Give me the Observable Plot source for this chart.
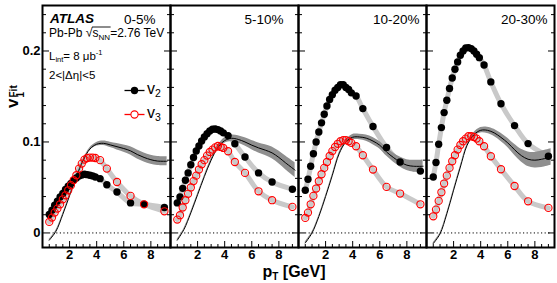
<!DOCTYPE html>
<html><head><meta charset="utf-8">
<script src="https://cdn.jsdelivr.net/npm/d3@7"></script>
<script src="https://cdn.jsdelivr.net/npm/@observablehq/plot@0.6"></script>
<style>
body{margin:0;background:#fff;}
#chart svg{display:block;background:#fff;}
</style></head><body><div id="chart"></div>
<script>
const FONT = "'Liberation Sans', Arial, Helvetica, sans-serif";
const panels = ["0-5%","5-10%","10-20%","20-30%"];
const pt = [0.5,0.7,0.9,1.1,1.3,1.5,1.7,1.9,2.1,2.3,2.5,2.7,2.9,3.1,3.3,3.5,3.7,3.9,4.25,4.75,5.5,6.5,7.5,9.0];

const v2_p1 = [0.0202,0.025,0.0304,0.0348,0.0396,0.0433,0.0477,0.0513,0.0543,0.058,0.0605,0.0627,0.0637,0.0645,0.0641,0.0634,0.0627,0.0615,0.0597,0.053,0.045,0.033,0.0315,0.028];
const v3_p1 = [0.0121,0.0169,0.0224,0.0268,0.0315,0.037,0.0414,0.0469,0.0524,0.058,0.0634,0.0707,0.0762,0.0806,0.0824,0.0828,0.0828,0.0824,0.080,0.0707,0.056,0.0407,0.0315,0.0238];
const v2_p2 = [0.033,0.0396,0.049,0.058,0.066,0.075,0.083,0.090,0.0956,0.101,0.1055,0.109,0.112,0.114,0.1143,0.1136,0.112,0.110,0.107,0.098,0.0835,0.066,0.056,0.048];
const v3_p2 = [0.0147,0.0195,0.028,0.036,0.043,0.050,0.057,0.063,0.0697,0.0755,0.080,0.085,0.089,0.0916,0.094,0.0956,0.0945,0.0934,0.0898,0.078,0.066,0.0458,0.036,0.0286];
const v2_p3 = [0.047,0.059,0.0733,0.087,0.100,0.111,0.121,0.1304,0.1396,0.1466,0.152,0.1568,0.160,0.163,0.163,0.160,0.1576,0.154,0.1505,0.1367,0.117,0.094,0.078,0.068];
const v3_p3 = [0.0165,0.0224,0.0315,0.0407,0.0488,0.0568,0.0645,0.0715,0.078,0.0846,0.090,0.0945,0.098,0.1008,0.102,0.102,0.1008,0.099,0.0953,0.0854,0.0697,0.0506,0.0433,0.0315];
const v2_p4 = [0.0615,0.0774,0.0975,0.1158,0.1323,0.1458,0.1587,0.1703,0.180,0.188,0.1953,0.200,0.2033,0.2037,0.2026,0.200,0.1964,0.1927,0.1846,0.166,0.142,0.118,0.0982,0.0843];
const v3_p4 = [0.0183,0.0257,0.0352,0.0447,0.0543,0.063,0.0715,0.0788,0.0854,0.0916,0.0967,0.1008,0.1037,0.1063,0.1063,0.1055,0.1037,0.1008,0.0953,0.0843,0.070,0.0516,0.0348,0.0275];

const fitPt = [0.5,1,1.5,2,2.5,3,3.5,4,4.5,5,5.5,6,6.5,7,7.5,8,8.5,9.2];
const v1_p1 = [-0.008,0.002,0.0205,0.041,0.0617,0.0795,0.0922,0.0975,0.0985,0.0968,0.0948,0.0928,0.0902,0.0862,0.083,0.0805,0.079,0.0788];
const e1_p1 = [0.001,0.001,0.001,0.001,0.001,0.0012,0.0015,0.002,0.0025,0.003,0.0035,0.004,0.0045,0.005,0.005,0.005,0.005,0.005];
const v1_p2 = [-0.008,0.004,0.022,0.042,0.062,0.080,0.094,0.1015,0.104,0.1028,0.100,0.0965,0.0935,0.091,0.088,0.083,0.077,0.069];
const e1_p2 = [0.001,0.001,0.001,0.001,0.001,0.0015,0.002,0.003,0.0035,0.004,0.0045,0.005,0.0055,0.006,0.0065,0.007,0.0075,0.008];
const v1_p3 = [-0.011,0.0,0.018,0.040,0.0635,0.087,0.100,0.1052,0.1055,0.1042,0.101,0.0964,0.089,0.083,0.078,0.0745,0.0733,0.0733];
const e1_p3 = [0.001,0.001,0.001,0.001,0.001,0.0015,0.002,0.003,0.003,0.0035,0.004,0.004,0.0045,0.005,0.0055,0.006,0.0065,0.007];
const v1_p4 = [-0.0117,-0.001,0.021,0.047,0.0725,0.0964,0.108,0.1128,0.1128,0.110,0.105,0.099,0.0915,0.085,0.081,0.080,0.081,0.0835];
const e1_p4 = [0.001,0.001,0.001,0.001,0.001,0.0015,0.002,0.003,0.0035,0.004,0.0045,0.005,0.006,0.007,0.008,0.0085,0.009,0.009];

const yMajor = [0, 0.1, 0.2];
const yMinor = [0.02,0.04,0.06,0.08,0.12,0.14,0.16,0.18,0.22,0.24];
const xMajor = [2,4,6,8];
const xMinor = [0.5,1,1.5,2.5,3,3.5,4.5,5,5.5,6.5,7,7.5,8.5,9];

// build tables
const v2s = [v2_p1, v2_p2, v2_p3, v2_p4];
const v3s = [v3_p1, v3_p2, v3_p3, v3_p4];
const v1s = [v1_p1, v1_p2, v1_p3, v1_p4];
const e1s = [e1_p1, e1_p2, e1_p3, e1_p4];
const rows = [];
panels.forEach((p, i) => {
  pt.forEach((x, j) => rows.push({panel: p, series: "v2", pt: x, v: v2s[i][j]}));
  pt.forEach((x, j) => rows.push({panel: p, series: "v3", pt: x, v: v3s[i][j]}));
});
const fitRows = [];
panels.forEach((p, i) => fitPt.forEach((x, j) => fitRows.push({panel: p, pt: x, v: v1s[i][j], lo: v1s[i][j] - e1s[i][j], hi: v1s[i][j] + e1s[i][j]})));
const v2Rows = rows.filter(d => d.series === "v2");
const v3Rows = rows.filter(d => d.series === "v3");

const dash = {draw(ctx, size) { const r = Math.sqrt(size / Math.PI); ctx.moveTo(-r, 0); ctx.lineTo(r, 0); }};

const chart = Plot.plot({
  width: 557, height: 283,
  marginLeft: 41, marginRight: 2, marginTop: 5, marginBottom: 36,
  style: {fontFamily: FONT, background: "#fff", color: "black"},
  x: {domain: [0, 9.45]},
  y: {domain: [-0.016, 0.25]},
  fx: {domain: panels, padding: 0, axis: null},
  marks: [
    Plot.ruleY([0], {stroke: "black", strokeDasharray: "1.2,2.4", strokeWidth: 1, insetLeft: 7, insetRight: 4}),
    Plot.line(rows, {x: "pt", y: "v", z: "series", fx: "panel", stroke: "#c9c9c9", strokeWidth: 5, curve: "catmull-rom"}),
    Plot.areaY(fitRows, {x: "pt", y1: "lo", y2: "hi", fx: "panel", fill: "#8f8f8f", curve: "catmull-rom"}),
    Plot.line(fitRows, {x: "pt", y: "v", fx: "panel", stroke: "black", strokeWidth: 1, curve: "catmull-rom"}),
    Plot.dot(v2Rows, {x: "pt", y: "v", fx: "panel", r: 3.7, fill: "black", stroke: "none"}),
    Plot.dot(v3Rows, {x: "pt", y: "v", fx: "panel", r: 3.6, fill: "none", stroke: "#ff0000", strokeWidth: 1.1}),
    Plot.frame({stroke: "black", strokeWidth: 2}),
    // inward ticks
    Plot.axisY(yMajor, {anchor: "left", facetAnchor: null, tickSize: 7, dx: 7, fill: "none", label: null}),
    Plot.axisY(yMajor, {anchor: "right", facetAnchor: null, tickSize: 7, dx: -7, fill: "none", label: null}),
    Plot.axisY(yMinor, {anchor: "left", facetAnchor: null, tickSize: 4, dx: 4, fill: "none", label: null}),
    Plot.axisY(yMinor, {anchor: "right", facetAnchor: null, tickSize: 4, dx: -4, fill: "none", label: null}),
    Plot.axisX(xMajor, {anchor: "bottom", facetAnchor: null, tickSize: 6, dy: -6, fill: "none", label: null}),
    Plot.axisX(xMinor, {anchor: "bottom", facetAnchor: null, tickSize: 3, dy: -3, fill: "none", label: null}),
    // tick labels
    Plot.axisY(yMajor, {anchor: "left", tickSize: 0, tickPadding: 2, fontSize: 13, fontWeight: "bold", tickFormat: d => d === 0 ? "0" : d3.format(".1f")(d), label: null}),
    Plot.axisX(xMajor, {anchor: "bottom", facetAnchor: null, tickSize: 0, tickPadding: 2, fontSize: 13, fontWeight: "bold", tickFormat: d => String(d), label: null}),
    // centrality labels
    Plot.text(panels.slice(0, 2), {fx: d => d, text: d => d, frameAnchor: "top-right", dx: -15, dy: 18, lineAnchor: "bottom", fontSize: 13.5}),
    Plot.text(panels.slice(2), {fx: d => d, text: d => d, frameAnchor: "top-right", dx: -7, dy: 18, lineAnchor: "bottom", fontSize: 13.5}),
    // legend symbols
    Plot.dot([panels[0]], {fx: d => d, frameAnchor: "top-left", dx: 92, dy: 85, r: 10, symbol: dash, stroke: "black", strokeWidth: 1.3}),
    Plot.dot([panels[0]], {fx: d => d, frameAnchor: "top-left", dx: 92, dy: 85, r: 3.7, fill: "black"}),
    Plot.dot([panels[0]], {fx: d => d, frameAnchor: "top-left", dx: 92, dy: 109, r: 10, symbol: dash, stroke: "#ff0000", strokeWidth: 1.3}),
    Plot.dot([panels[0]], {fx: d => d, frameAnchor: "top-left", dx: 92, dy: 109, r: 3.6, fill: "white", stroke: "#ff0000", strokeWidth: 1.1})
  ]
});
document.getElementById("chart").appendChild(chart);

// rich text annotations
const svg = d3.select(chart);
const g = svg.append("g").attr("font-family", FONT).attr("fill", "black").attr("text-anchor", "start");
g.append("text").attr("x", 50).attr("y", 22.5).attr("font-size", 13.5).attr("font-weight", "bold").attr("font-style", "italic").text("ATLAS");

const t1 = g.append("text").attr("x", 49).attr("y", 37).attr("font-size", 12);
t1.append("tspan").text("Pb-Pb ");
t1.append("tspan").attr("font-size", 12.5).text("\u221A");
t1.append("tspan").text("s");
t1.append("tspan").attr("font-size", 8).attr("dy", 2.5).text("NN");
t1.append("tspan").attr("dy", -2.5).text("=2.76 TeV");
try {
  const n = t1.node();
  const xe = n.getEndPositionOfChar(9).x;
  const xr = n.getEndPositionOfChar(6).x;
  g.append("line").attr("x1", xr - 0.5).attr("x2", xe + 0.5).attr("y1", 27).attr("y2", 27).attr("stroke", "black").attr("stroke-width", 0.9);
} catch (e) {}

const t2 = g.append("text").attr("x", 49).attr("y", 59.5).attr("font-size", 11.5);
t2.append("tspan").text("L");
t2.append("tspan").attr("font-size", 7.5).attr("dy", 2.5).text("int");
t2.append("tspan").attr("dy", -2.5).text("= 8 \u03BCb");
t2.append("tspan").attr("font-size", 7.5).attr("dy", -4.5).text("-1");

g.append("text").attr("x", 49).attr("y", 79).attr("font-size", 11.5).text("2<|\u0394\u03B7|<5");

// legend labels
const l1 = g.append("text").attr("x", 147).attr("y", 94).attr("font-size", 16);
l1.append("tspan").text("v");
l1.append("tspan").attr("font-size", 10.5).attr("dy", 2.5).text("2");
const l2 = g.append("text").attr("x", 147).attr("y", 118).attr("font-size", 16);
l2.append("tspan").text("v");
l2.append("tspan").attr("font-size", 10.5).attr("dy", 2.5).text("3");

// axis titles
const yl = g.append("g").attr("transform", "translate(18,108) rotate(-90)").attr("font-weight", "bold");
yl.append("text").attr("x", 0).attr("y", 0).attr("font-size", 17).text("v");
yl.append("text").attr("x", 10.5).attr("y", -1).attr("font-size", 10).text("Fit");
yl.append("text").attr("x", 10.5).attr("y", 5.5).attr("font-size", 10).text("1");

const xl = g.append("text").attr("x", 262.5).attr("y", 277).attr("font-size", 16).attr("font-weight", "bold");
xl.append("tspan").text("p");
xl.append("tspan").attr("font-size", 10).attr("dy", 3).text("T");
xl.append("tspan").attr("dy", -3).text(" [GeV]");
</script></body></html>
